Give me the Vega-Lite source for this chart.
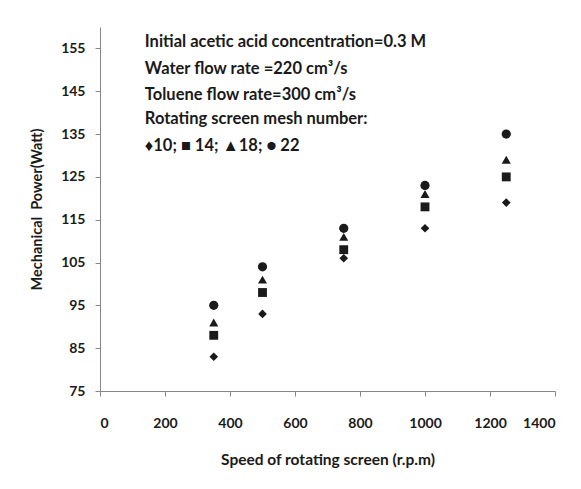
{
  "$schema": "https://vega.github.io/schema/vega-lite/v6.json",
  "width": 455,
  "height": 364,
  "autosize": {"type": "none"},
  "padding": {"left": 100, "top": 27, "right": 26, "bottom": 98},
  "background": "white",
  "config": {"view": {"stroke": null}, "font": "Lato"},
  "datasets": {
    "points": [
      {"speed": 350, "mesh": "10", "power": 83},
      {"speed": 500, "mesh": "10", "power": 93},
      {"speed": 750, "mesh": "10", "power": 106},
      {"speed": 1000, "mesh": "10", "power": 113},
      {"speed": 1250, "mesh": "10", "power": 119},
      {"speed": 350, "mesh": "14", "power": 88},
      {"speed": 500, "mesh": "14", "power": 98},
      {"speed": 750, "mesh": "14", "power": 108},
      {"speed": 1000, "mesh": "14", "power": 118},
      {"speed": 1250, "mesh": "14", "power": 125},
      {"speed": 350, "mesh": "18", "power": 91},
      {"speed": 500, "mesh": "18", "power": 101},
      {"speed": 750, "mesh": "18", "power": 111},
      {"speed": 1000, "mesh": "18", "power": 121},
      {"speed": 1250, "mesh": "18", "power": 129},
      {"speed": 350, "mesh": "22", "power": 95},
      {"speed": 500, "mesh": "22", "power": 104},
      {"speed": 750, "mesh": "22", "power": 113},
      {"speed": 1000, "mesh": "22", "power": 123},
      {"speed": 1250, "mesh": "22", "power": 135}
    ],
    "notes": [
      {"label": "Initial acetic acid concentration=0.3 M", "x": 138, "y": 156.4},
      {"label": "Water flow rate =220 cm³/s", "x": 138, "y": 150.2},
      {"label": "Toluene flow rate=300 cm³/s", "x": 138, "y": 144.2},
      {"label": "Rotating screen mesh number:", "x": 138, "y": 138.4},
      {"label": "♦10; ■ 14;  ▲18; ● 22", "x": 138, "y": 132.2}
    ]
  },
  "layer": [
    {
      "data": {"name": "points"},
      "mark": {"type": "point", "filled": true, "opacity": 1, "color": "#1a1a1a"},
      "encoding": {
        "x": {
          "field": "speed",
          "type": "quantitative",
          "scale": {"domain": [0, 1400], "nice": false},
          "axis": {
            "values": [0, 200, 400, 600, 800, 1000, 1200, 1400],
            "format": "d",
            "grid": false,
            "tickSize": 5,
            "domainColor": "#868686",
            "tickColor": "#868686",
            "labelFont": "Lato",
            "labelFontWeight": "bold",
            "labelFontSize": 14,
            "labelColor": "#1a1a1a",
            "labelPadding": 20,
            "title": "Speed of rotating screen (r.p.m)",
            "titleFont": "Lato",
            "titleFontWeight": "bold",
            "titleFontSize": 15.5,
            "titleColor": "#1a1a1a",
            "titlePadding": 22
          }
        },
        "y": {
          "field": "power",
          "type": "quantitative",
          "scale": {"domain": [75, 160], "nice": false},
          "axis": {
            "values": [75, 85, 95, 105, 115, 125, 135, 145, 155],
            "grid": false,
            "tickSize": 5,
            "domainColor": "#868686",
            "tickColor": "#868686",
            "labelFont": "Lato",
            "labelFontWeight": "bold",
            "labelFontSize": 14,
            "labelColor": "#1a1a1a",
            "labelPadding": 10,
            "title": "Mechanical\u00a0\u00a0Power(Watt)",
            "titleFont": "Lato",
            "titleFontWeight": "bold",
            "titleFontSize": 14.5,
            "titleColor": "#1a1a1a",
            "titlePadding": 16
          }
        },
        "shape": {
          "field": "mesh",
          "type": "nominal",
          "scale": {"domain": ["10", "14", "18", "22"], "range": ["diamond", "square", "triangle-up", "circle"]},
          "legend": null
        },
        "size": {
          "field": "mesh",
          "type": "ordinal",
          "scale": {"domain": ["10", "14", "18", "22"], "range": [75, 85, 95, 95]},
          "legend": null
        }
      }
    },
    {
      "data": {"name": "notes"},
      "mark": {"type": "text", "align": "left", "baseline": "middle", "font": "Lato", "fontWeight": "bold", "fontSize": 16.5, "color": "#1a1a1a"},
      "encoding": {
        "x": {"field": "x", "type": "quantitative"},
        "y": {"field": "y", "type": "quantitative"},
        "text": {"field": "label"}
      }
    }
  ]
}
